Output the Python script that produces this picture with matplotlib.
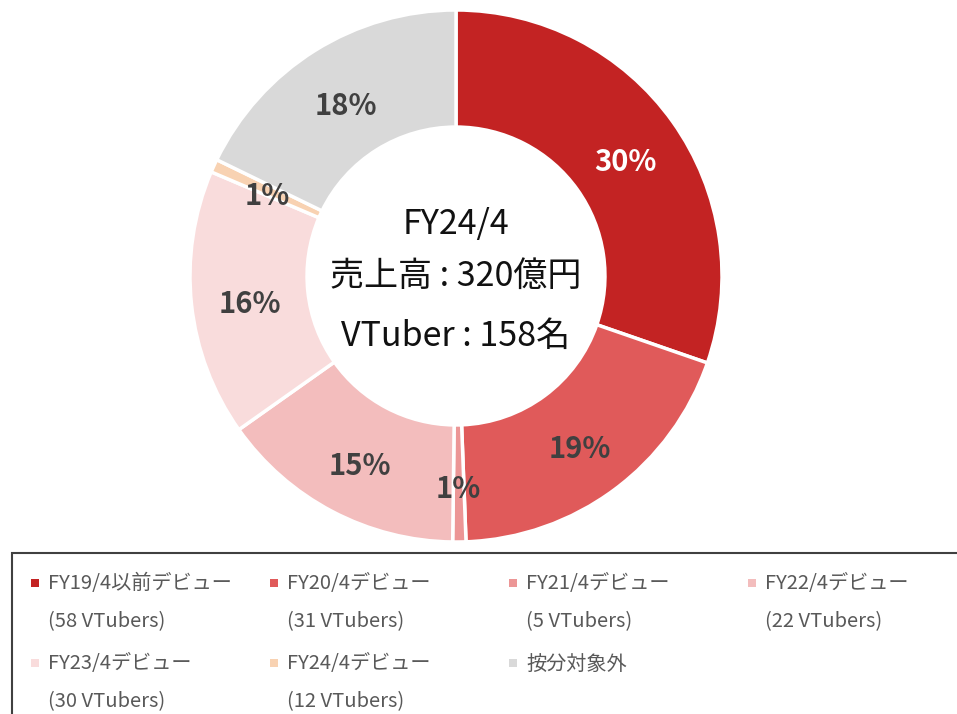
import matplotlib
matplotlib.use("Agg")
import matplotlib.pyplot as plt
from matplotlib.patches import Rectangle

plt.rcParams['font.family'] = ['Noto Sans CJK JP', 'DejaVu Sans']

# slice shares (%) clockwise from 12 o'clock
shares = [30.3, 19.1, 0.8, 15.0, 16.2, 0.8, 17.8]
colors = ["#C32323", "#E05A5A", "#EC9696", "#F3BDBD", "#F9DCDC", "#F8D2B2", "#D9D9D9"]
legend_names = ["FY19/4以前デビュー", "FY20/4デビュー", "FY21/4デビュー", "FY22/4デビュー",
                "FY23/4デビュー", "FY24/4デビュー", "按分対象外"]
vtuber_counts = [58, 31, 5, 22, 30, 12, None]
center_lines = ["FY24/4", "売上高 : 320億円", "VTuber : 158名"]

W, H = 957, 714
fig = plt.figure(figsize=(W / 100, H / 100), dpi=100)

# donut axes: centre (456, 276), radius 266 px
cx, cy, r = 456, 276, 266
ax = fig.add_axes([(cx - r) / W, 1 - (cy + r) / H, 2 * r / W, 2 * r / H])
wedges, _, autotexts = ax.pie(
    shares, colors=colors, startangle=90, counterclock=False, radius=1,
    autopct='%.0f%%', pctdistance=0.78,
    wedgeprops=dict(width=0.44, edgecolor="white", linewidth=2.5),
    textprops=dict(fontsize=21, fontweight='bold', color="#404040"),
)
autotexts[0].set_color("white")
for t in autotexts:
    x, y = t.get_position()
    t.set_position((x, y - 6 / r))
ax.set_xlim(-1, 1)
ax.set_ylim(-1, 1)
ax.set_aspect('equal')
ax.axis('off')

# centre text
for txt, y in zip(center_lines, [224, 276, 336]):
    fig.text(cx / W, 1 - y / H, txt, ha='center', va='center', fontsize=24.5, color="#111111")

# legend box
fig.add_artist(Rectangle((12 / W, -0.1), 1.1, 1.1 - 553 / H, transform=fig.transFigure,
                         fill=False, edgecolor="#404040", linewidth=1.5, clip_on=False))

col_x = [35, 274, 513, 752]
row_y = [583, 663]
for i, name in enumerate(legend_names):
    col, row = i % 4, i // 4
    mx, my = col_x[col], row_y[row]
    fig.add_artist(Rectangle(((mx - 4) / W, 1 - (my + 4) / H), 8 / W, 8 / H,
                             transform=fig.transFigure, facecolor=colors[i], edgecolor='none'))
    fig.text((mx + 13) / W, 1 - (my + 1) / H, name, ha='left', va='center', fontsize=14.5, color="#595959")
    if vtuber_counts[i] is not None:
        fig.text((mx + 13) / W, 1 - (my + 39) / H, f"({vtuber_counts[i]} VTubers)",
                 ha='left', va='center', fontsize=14.5, color="#595959")

fig.savefig("out.png", dpi=100)
